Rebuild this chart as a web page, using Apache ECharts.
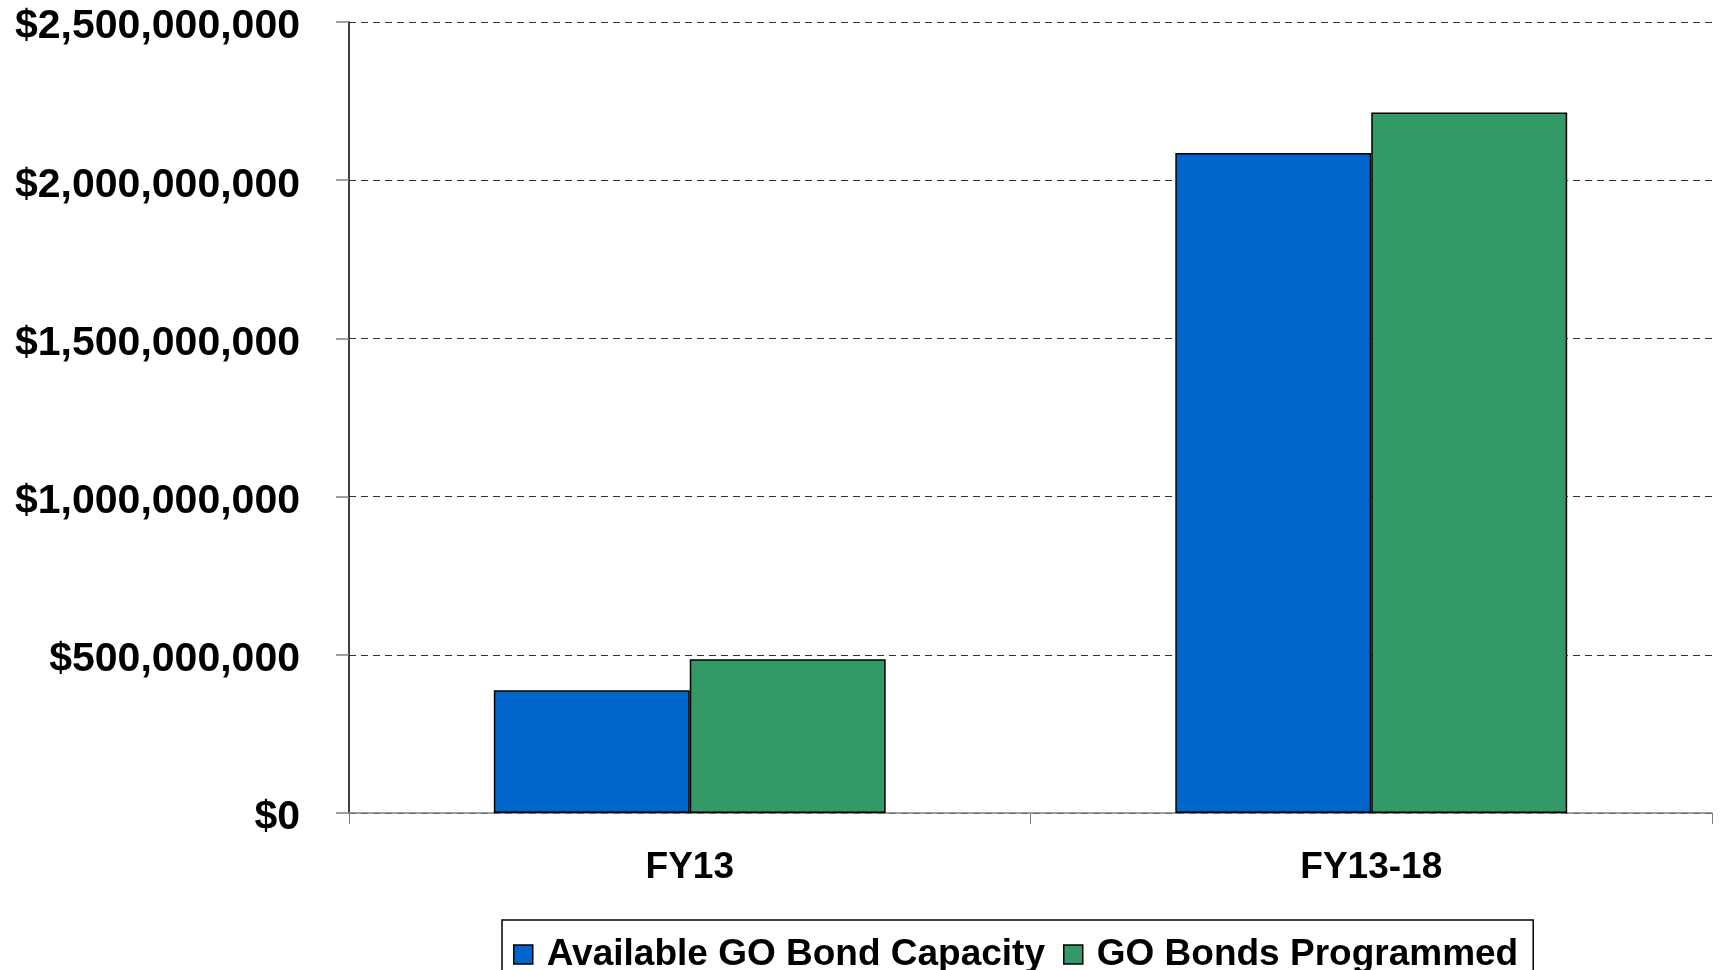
<!DOCTYPE html>
<html>
<head>
<meta charset="utf-8">
<script src="https://cdn.jsdelivr.net/npm/echarts@6/dist/echarts.min.js"></script>
<style>
html,body{margin:0;padding:0;background:#fff;}
#chart{width:1721px;height:970px;}
</style>
</head>
<body>
<div id="chart"></div>
<script>
const categories = ['FY13', 'FY13-18'];
const seriesNames = ['Available GO Bond Capacity', 'GO Bonds Programmed'];
const availableCapacity = [388000000, 2086000000];
const bondsProgrammed = [486000000, 2214000000];
const yTicks = [0, 500000000, 1000000000, 1500000000, 2000000000, 2500000000];

const FONT = '"Liberation Sans", Arial, sans-serif';
const chart = echarts.init(document.getElementById('chart'));
chart.setOption({
  animation: false,
  backgroundColor: '#ffffff',
  grid: { left: 349, right: 9, top: 22, bottom: 157, containLabel: false },
  legend: {
    left: 502, top: 920,
    data: seriesNames,
    icon: 'rect', itemWidth: 19, itemHeight: 19, itemGap: 18,
    borderColor: '#000', borderWidth: 1.5,
    padding: [16, 15, 18, 11],
    textStyle: { fontFamily: FONT, fontSize: 37, fontWeight: 'bold', color: '#000', padding: [0, 0, 0, 9] },
    itemStyle: { borderColor: '#000', borderWidth: 1.5 }
  },
  xAxis: {
    type: 'category',
    data: categories,
    axisLine: { lineStyle: { color: '#808080', width: 1.5 } },
    axisTick: { show: true, length: 11, lineStyle: { color: '#808080', width: 1 } },
    axisLabel: { fontFamily: FONT, fontSize: 37, fontWeight: 'bold', color: '#000', margin: 36 }
  },
  yAxis: {
    type: 'value',
    min: yTicks[0], max: yTicks[yTicks.length - 1], interval: 500000000,
    axisLine: { show: true, lineStyle: { color: '#000', width: 1.5 } },
    axisTick: { show: true, length: 13, lineStyle: { color: '#808080', width: 1.5 } },
    splitLine: { show: true, lineStyle: { color: '#333', type: [7, 5], width: 1.2 } },
    axisLabel: {
      fontFamily: FONT, fontSize: 41, fontWeight: 'bold', color: '#000', margin: 49,
      formatter: v => '{v|$' + v.toLocaleString('en-US') + '}',
      rich: {
        v: { fontFamily: FONT, fontSize: 41, fontWeight: 'bold', color: '#000', padding: [10, 0, 0, 0] }
      }
    }
  },
  series: [
    {
      name: seriesNames[0], type: 'bar', data: availableCapacity,
      barGap: '0%', barCategoryGap: '42.5%',
      itemStyle: { color: '#0066CC', borderColor: '#000', borderWidth: 1.5 }
    },
    {
      name: seriesNames[1], type: 'bar', data: bondsProgrammed,
      barGap: '0%', barCategoryGap: '42.5%',
      itemStyle: { color: '#339966', borderColor: '#000', borderWidth: 1.5 }
    }
  ]
});
</script>
</body>
</html>
